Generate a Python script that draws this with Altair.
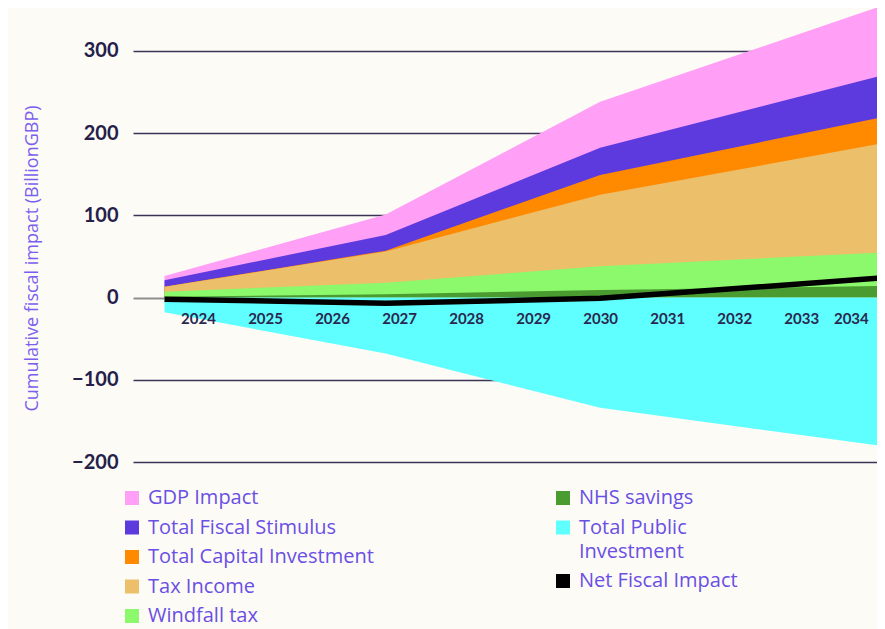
import altair as alt
import pandas as pd

# ---- data ----
years = [2023.5, 2026.8, 2030.0, 2034.25]
gdp_impact = [26, 101, 238, 356]
total_fiscal_stimulus = [21, 76, 182, 271]
total_capital_investment = [13, 57, 149, 220]
tax_income = [13, 56, 125, 188]
windfall_tax = [7, 18, 38, 55]
nhs_savings = [1, 4, 9, 14]
total_public_investment = [-18, -68, -134, -181]
net_fiscal_impact = [-2, -7, -1, 24]

x_ticks = list(range(2024, 2035))
y_ticks = [-200, -100, 0, 100, 200, 300]

left_series = ["GDP Impact", "Total Fiscal Stimulus", "Total Capital Investment",
               "Tax Income", "Windfall tax"]
left_colors = ["#ff9ff6", "#5c3ade", "#ff8a00", "#ecbf6b", "#8cf96c"]
right_series = ["NHS savings", "Total Public Investment", "Net Fiscal Impact"]
right_colors = ["#4a9c30", "#5efffe", "#000000"]

series_values = {
    "GDP Impact": gdp_impact,
    "Total Fiscal Stimulus": total_fiscal_stimulus,
    "Total Capital Investment": total_capital_investment,
    "Tax Income": tax_income,
    "Windfall tax": windfall_tax,
    "NHS savings": nhs_savings,
    "Total Public Investment": total_public_investment,
    "Net Fiscal Impact": net_fiscal_impact,
}
rows = []
for name, vals in series_values.items():
    for yr, v in zip(years, vals):
        rows.append({"series": name, "year": yr, "value": v})
df = pd.DataFrame(rows)

FONT = "Lato"
TEXT_FONT = "Open Sans"
BG = "#fcfbf6"

x_scale = alt.Scale(domain=[2023.03, 2034.13], nice=False, zero=False)
y_scale = alt.Scale(domain=[-200, 352], nice=False, zero=False)

x_axis = alt.Axis(values=x_ticks, format="d", offset=-164, domain=False, ticks=False,
                  grid=False, labelFont=FONT, labelFontSize=15, labelFontWeight="bold",
                  labelColor="#2a2750", labelPadding=13, labelFlush=15,
                  labelOverlap=False, zindex=1, title=None)
y_axis = alt.Axis(values=y_ticks, domain=False, ticks=False, grid=True,
                  gridWidth={"condition": {"test": "datum.value === 0", "value": 2}, "value": 1.5},
                  gridColor={"condition": {"test": "datum.value === 0", "value": "#8e8e8e"},
                             "value": "#3a3456"},
                  labelFont=FONT, labelFontSize=20, labelFontWeight="bold",
                  labelColor="#24204a", labelPadding=15,
                  title="Cumulative fiscal impact (BillionGBP)", titleFont=TEXT_FONT,
                  titleFontSize=18, titleFontWeight="normal", titleColor="#7b5ef0",
                  titleX=-101, titleY=250, titleAngle=270, titleAlign="center",
                  titleBaseline="middle", zindex=0)

legend_common = dict(orient="none", title=None, symbolType="square", symbolSize=196,
                     symbolStrokeWidth=0, labelFont=TEXT_FONT, labelFontSize=20,
                     labelColor="#6a4fe4", labelOffset=6, rowPadding=9.5, padding=0,
                     labelLimit=500)
legend_left = alt.Legend(legendX=-11, legendY=480, **legend_common)
legend_right = alt.Legend(
    legendX=420, legendY=480,
    labelExpr="datum.label == 'Total Public Investment' ? ['Total Public', 'Investment'] : datum.label",
    **legend_common)

X = alt.X("year:Q", scale=x_scale, axis=x_axis)
Y = alt.Y("value:Q", scale=y_scale, axis=y_axis)
Y2 = alt.Y2Datum(0)

layers = []
for name in left_series:
    layers.append(
        alt.Chart(df).transform_filter(alt.datum.series == name)
        .mark_area(clip=True)
        .encode(x=X, y=Y, y2=Y2,
                fill=alt.Fill("series:N",
                              scale=alt.Scale(domain=left_series, range=left_colors),
                              legend=legend_left))
    )
for name in ["NHS savings", "Total Public Investment"]:
    layers.append(
        alt.Chart(df).transform_filter(alt.datum.series == name)
        .mark_area(clip=True)
        .encode(x=X, y=Y, y2=Y2,
                color=alt.Color("series:N",
                                scale=alt.Scale(domain=right_series, range=right_colors),
                                legend=legend_right))
    )
layers.append(
    alt.Chart(df).transform_filter(alt.datum.series == "Net Fiscal Impact")
    .mark_line(clip=True, color="#000000", strokeWidth=5.5)
    .encode(x=X, y=Y)
)

chart = alt.layer(*layers).properties(
    width=744, height=454,
    padding={"left": 125, "top": 0, "right": 0, "bottom": 167},
    autosize=alt.AutoSizeParams(type="none"),
).configure(
    background=BG,
    style={"guide-label": {"lineHeight": 24}},
).configure_view(stroke=None)

chart.save("out.html", embed_options={"renderer": "svg", "actions": False})
